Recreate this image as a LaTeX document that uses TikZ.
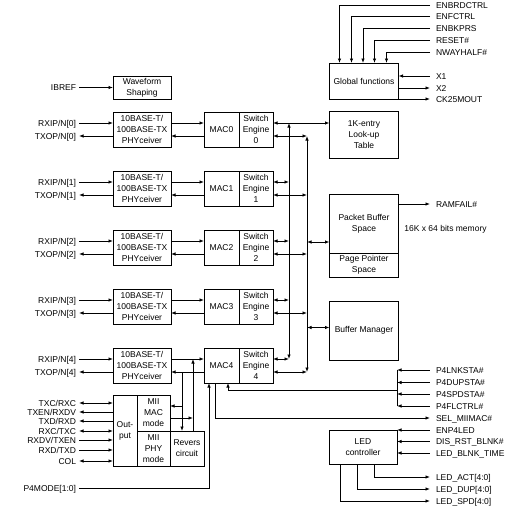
\documentclass[tikz,border=0pt]{standalone}
\usepackage{fontspec}
\setmainfont{Liberation Sans}
\usetikzlibrary{arrows.meta,positioning,calc}

\begin{document}
\begin{tikzpicture}[
    x=1pt, y=-1pt,
    >={Latex[length=4.5pt,width=3.5pt]},
    font=\fontsize{8.5}{11}\selectfont,
    line width=0.8pt,
    box/.style={draw, align=center, inner sep=1pt, outer sep=0pt},
    phybox/.style={box, minimum width=58pt, minimum height=35pt},
    macbox/.style={box, minimum width=35pt, minimum height=35pt},
    engbox/.style={box, minimum width=34pt, minimum height=35pt},
    sidebox/.style={box, minimum width=69pt},
    lbl/.style={anchor=east, inner sep=0pt, outer sep=3pt, text height=6pt, text depth=0pt},
    rlbl/.style={anchor=west, inner sep=0pt, outer sep=6pt, text height=6pt, text depth=0pt}
]
\useasboundingbox (0,0) rectangle (511,517);

% reference input
\node[box, minimum width=58pt, minimum height=23pt] (wave) at (142,87.5) {Waveform\\Shaping};
\node[lbl] (ibref) at (79,87.5) {IBREF};
\draw[->] (ibref) -- (wave);

% the five ports
\foreach \i in {0,...,4}{
  \pgfmathsetmacro\yc{129.5+59*\i}
  \node[phybox] (phy\i) at (142,\yc) {10BASE-T/\\100BASE-TX\\PHYceiver};
  \node[macbox] (mac\i) at (221.5,\yc) {MAC\i};
  \node[engbox, right=0pt of mac\i] (eng\i) {Switch\\Engine\\\i};
  \node[lbl] (rx\i) at (79,\yc-6.5) {RXIP/N[\i]};
  \node[lbl] (tx\i) at (79,\yc+6.5) {TXOP/N[\i]};
  \draw[->] (rx\i) -- (rx\i -| phy\i.west);
  \draw[<-] (tx\i) -- (tx\i -| phy\i.west);
  \draw[->] (rx\i -| phy\i.east) -- (rx\i -| mac\i.west);
  \draw[<-] (tx\i -| phy\i.east) -- (tx\i -| mac\i.west);
}

% right column
\node[sidebox, minimum height=36pt] (glob) at (364,81) {Global functions};
\node[sidebox, minimum height=47pt] (lut) at (364,134.5) {1K-entry\\Look-up\\Table};
\node[sidebox, minimum height=59pt] (pbuf) at (364,223.5) {Packet Buffer\\Space};
\node[sidebox, minimum height=24pt, below=0pt of pbuf] (ppage) {Page Pointer\\Space};
\node[sidebox, minimum height=59pt] (bman) at (364,330.5) {Buffer Manager};
\node[box, minimum width=68pt, minimum height=34pt] (led) at (363,447) {LED\\controller};

% internal buses
\coordinate (busa) at (289,123);
\coordinate (busb) at (307,136);
\draw[<->] (eng0.east |- rx0) -- (rx0 -| lut.west);
\foreach \i in {1,...,4} \draw[<->] (eng\i.east |- rx\i) -- (busa |- rx\i);
\foreach \i in {0,...,4} \draw[<->] (eng\i.east |- tx\i) -- (busb |- tx\i);
\draw[<->] (busa) -- (busa |- rx4);
\draw[<->] (busb) -- (busb |- tx4);
\coordinate (pbin) at ([yshift=11pt]pbuf.south west);
\draw[<->] (busb |- pbin) -- (pbin);
\coordinate (bmin) at ([yshift=3pt]bman.west);
\draw[<->] (busb |- bmin) -- (bmin);

% global signals
\node[rlbl] (enbrd) at (430,5) {ENBRDCTRL};
\node[rlbl] (enfc) at (430,16.5) {ENFCTRL};
\node[rlbl] (enbk) at (430,28.5) {ENBKPRS};
\node[rlbl] (reset) at (430,40) {RESET\#};
\node[rlbl] (nway) at (430,52) {NWAYHALF\#};
\node[rlbl] (xone) at (430,76) {X1};
\node[rlbl] (xtwo) at (430,88) {X2};
\node[rlbl] (ckout) at (430,99) {CK25MOUT};
\draw[->] (enbrd) -| ([xshift=10pt]glob.north west);
\draw[->] (enfc) -| ([xshift=22pt]glob.north west);
\draw[->] (enbk) -| ([xshift=33.5pt]glob.north west);
\draw[->] (reset) -| ([xshift=45pt]glob.north west);
\draw[->] (nway) -| ([xshift=57pt]glob.north west);
\draw[<-] (xone -| glob.east) -- (xone);
\draw[->] (xtwo -| glob.east) -- (xtwo);
\draw[->] (ckout -| glob.east) -- (ckout);

\node[rlbl] (ramfail) at (430,204) {RAMFAIL\#};
\draw[->] (ramfail -| pbuf.east) -- (ramfail);
\node[anchor=west, inner sep=0pt] (memnote) at (404,229) {16K x 64 bits memory};

% MII block of port 4
\node[box, minimum width=24pt, minimum height=71pt] (outp) at (125,430.5) {Out-\\put};
\node[box, minimum width=33pt, minimum height=36pt, anchor=north west] (miimac) at (outp.north east) {MII\\MAC\\mode};
\node[box, minimum width=33pt, minimum height=35pt, anchor=north west] (miiphy) at (miimac.south west) {MII\\PHY\\mode};
\node[box, minimum width=34pt, minimum height=35pt, anchor=north west] (revers) at (miiphy.north east) {Revers\\circuit};

\node[lbl] (txc) at (79,403) {TXC/RXC};
\node[lbl] (txen) at (79,412) {TXEN/RXDV};
\node[lbl] (txd) at (79,421) {TXD/RXD};
\node[lbl] (rxc) at (79,431) {RXC/TXC};
\node[lbl] (rxdv) at (79,440) {RXDV/TXEN};
\node[lbl] (rxd) at (79,450) {RXD/TXD};
\node[lbl] (col) at (79,461) {COL};
\draw[<->] (txc) -- (txc -| outp.west);
\draw[<-] (txen) -- (txen -| outp.west);
\draw[<-] (txd) -- (txd -| outp.west);
\draw[<->] (rxc) -- (rxc -| outp.west);
\draw[->] (rxdv) -- (rxdv -| outp.west);
\draw[->] (rxd) -- (rxd -| outp.west);
\draw[<->] (col) -- (col -| outp.west);

\coordinate (revin) at (182,406);
\coordinate (revout) at (193,418);
\draw[->] (revin |- tx4) -- (revin |- revers.north);
\draw[->] (revin) -- (revin -| miimac.east);
\draw[->] (revout -| miimac.east) -- (revout);
\draw[->] (revout |- revers.north) -- (revout |- rx4);

\node[lbl] (p4mode) at (79,488) {P4MODE[1:0]};
\draw[->] (p4mode) -| ([xshift=-12.5pt]mac4.south);

% port 4 status and LED signals
\node[rlbl] (lnk) at (430,370) {P4LNKSTA\#};
\node[rlbl] (dup) at (430,382.5) {P4DUPSTA\#};
\node[rlbl] (spd) at (430,394) {P4SPDSTA\#};
\node[rlbl] (flc) at (430,406) {P4FLCTRL\#};
\node[rlbl] (selmii) at (430,418) {SEL\_MIIMAC\#};
\node[rlbl] (enled) at (430,430) {ENP4LED};
\node[rlbl] (disrst) at (430,441.5) {DIS\_RST\_BLNK\#};
\node[rlbl] (blnk) at (430,453) {LED\_BLNK\_TIME};
\node[rlbl] (ledact) at (430,477) {LED\_ACT[4:0]};
\node[rlbl] (leddup) at (430,489) {LED\_DUP[4:0]};
\node[rlbl] (ledspd) at (430,501) {LED\_SPD[4:0]};

\coordinate (stbus) at (397,390);
\foreach \n in {lnk,dup,spd,flc} \draw[<-] (stbus |- \n) -- (\n);
\draw (stbus |- lnk) -- (stbus |- flc);
\draw[->] (stbus) -| ([xshift=6.5pt]mac4.south);
\draw[->] ([xshift=-6.5pt]mac4.south) |- (selmii);

\draw[<-] (enled -| led.east) -- (enled);
\draw[<-] (disrst -| led.east) -- (disrst);
\draw[<-] (blnk -| led.east) -- (blnk);
\draw[->] ([xshift=11pt]led.south) |- (ledact);
\draw[->] ([xshift=-6pt]led.south) |- (leddup);
\draw[->] ([xshift=-23pt]led.south) |- (ledspd);
\end{tikzpicture}
\end{document}
